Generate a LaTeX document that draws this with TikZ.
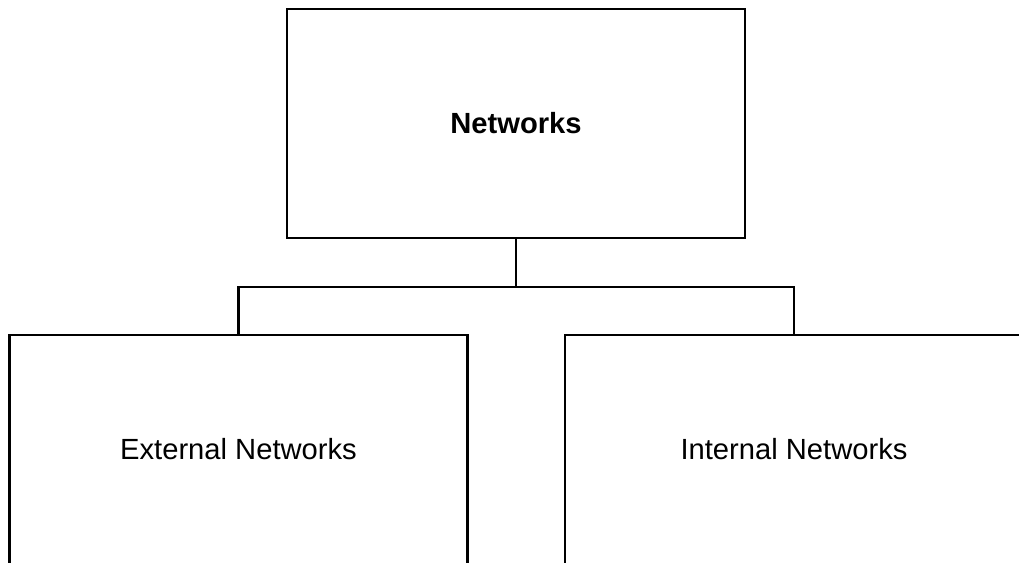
\documentclass[tikz,border=0pt]{standalone}
\usepackage{fontspec}
\setmainfont{Liberation Sans}
\usepackage{tikz}
\usetikzlibrary{positioning, calc}

\tikzset{
    netbox/.style={draw, line width=1.4pt, rectangle, minimum width=9.16cm, minimum height=4.58cm, inner sep=0pt, font=\fontsize{16.6}{20}\selectfont},
    link/.style={line width=1.4pt}
}

\begin{document}
\begin{tikzpicture}
    % Frame of the picture
    \useasboundingbox (0,0) rectangle (20.38,11.26);
    \clip (0,0) rectangle (20.38,11.26);

    % Boxes
    \node[netbox] (net) at (10.32,8.79) {\textbf{Networks}};
    \node[netbox] (ext) at (4.77,2.27) {External Networks};
    \node[netbox] (int) at (15.88,2.27) {Internal Networks};

    % Tree connectors
    \coordinate (bus) at ($(net.south)+(0,-0.96)$);
    \draw[link] (net.south) -- (bus);
    \draw[link] (ext.north) |- (bus) -| (int.north);
\end{tikzpicture}
\end{document}
